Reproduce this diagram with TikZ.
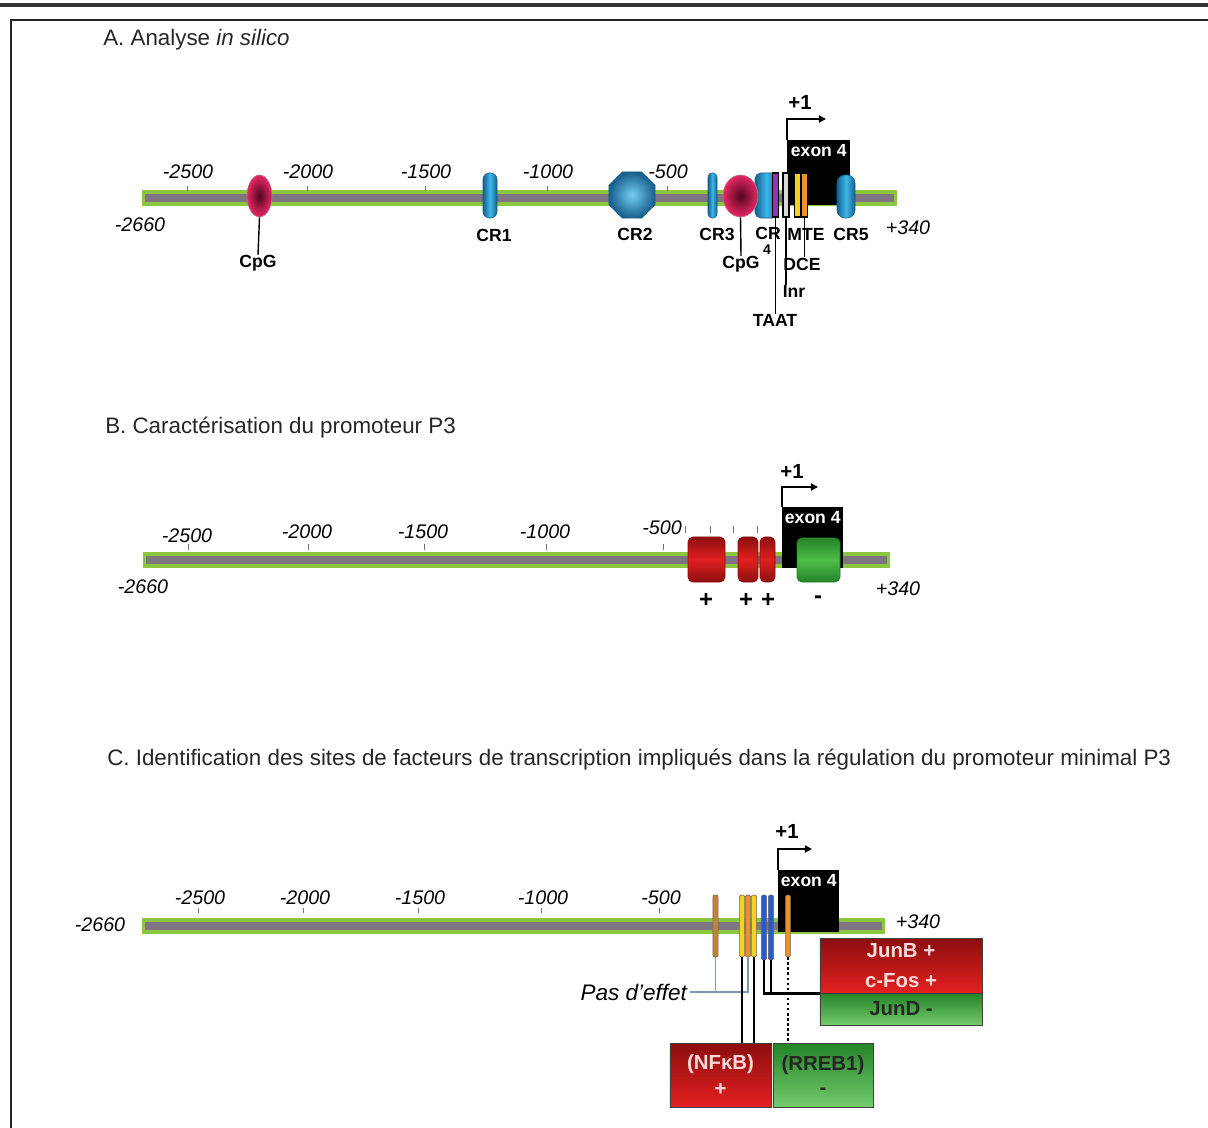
\documentclass[tikz,border=0pt]{standalone}
\usepackage{fontspec}
\setmainfont{Liberation Sans}
\usetikzlibrary{shapes.geometric, arrows.meta}

\definecolor{trackgreen}{RGB}{140,198,63}
\definecolor{trackgrey}{RGB}{126,116,130}
\definecolor{cpgred}{RGB}{232,38,100}
\definecolor{cpgdark}{RGB}{80,8,28}
\definecolor{crblue}{RGB}{60,185,235}
\definecolor{crdark}{RGB}{22,95,140}
\definecolor{boxred}{RGB}{228,32,32}
\definecolor{boxdarkred}{RGB}{140,14,14}
\definecolor{boxgreen}{RGB}{78,190,70}
\definecolor{boxdarkgreen}{RGB}{36,130,40}
\definecolor{taatpurple}{RGB}{150,50,180}
\definecolor{mteyellow}{RGB}{245,210,30}
\definecolor{dceorange}{RGB}{235,145,40}
\definecolor{siteblue}{RGB}{40,90,210}
\definecolor{sitebrown}{RGB}{200,130,50}
\definecolor{noeffect}{RGB}{130,150,165}

\tikzset{
  every node/.style={inner sep=0pt},
  track/.style={line width=12pt, draw=trackgreen},
  trackcore/.style={line width=5.5pt, draw=trackgrey},
  tickmark/.style={draw=black!55, line width=0.6pt},
  ticklbl/.style={font=\fontsize{14}{16}\selectfont\itshape},
  headline/.style={anchor=west, text=black!85, font=\fontsize{15.9}{18}\selectfont},
  sitelbl/.style={font=\fontsize{12.5}{14}\selectfont\bfseries},
  sitelink/.style={line width=1pt},
  signlbl/.style={font=\fontsize{17}{18}\selectfont\bfseries},
  tsslbl/.style={font=\fontsize{14.5}{16}\selectfont\bfseries},
  exonbox/.style={anchor=north west, fill=black},
  exonlbl/.style={anchor=north, text=white, font=\fontsize{12.5}{14}\selectfont\bfseries},
  tss/.style={line width=1.5pt, -{Triangle[length=5pt, width=5pt]}},
  cpg/.style={ellipse, draw=cpgdark!50, inner color=cpgdark, outer color=cpgred},
  crcap/.style={rectangle, rounded corners=#1, draw=crdark, left color=crdark,
    right color=crdark, middle color=crblue, minimum height=1.125cm},
  crcap/.default=0.16cm,
  croct/.style={regular polygon, regular polygon sides=8, minimum size=1.25cm,
    draw=crdark, inner color=crblue!70!white, outer color=crdark},
  elem/.style={draw=black, line width=0.8pt, minimum width=0.15cm, minimum height=1.1cm},
  actbox/.style={rectangle, rounded corners=0.12cm, draw=boxdarkred, top color=boxdarkred,
    bottom color=boxdarkred, middle color=boxred, minimum height=1.125cm},
  repbox/.style={rectangle, rounded corners=0.12cm, draw=boxdarkgreen, top color=boxdarkgreen,
    bottom color=boxdarkgreen, middle color=boxgreen, minimum height=1.1cm},
  sitebar/.style={rectangle, rounded corners=0.05cm, draw=black!60, line width=0.4pt,
    minimum width=0.13cm, minimum height=1.55cm},
  tfbox/.style={rectangle, draw=black!75, line width=0.6pt, align=center,
    font=\fontsize{14.5}{21}\selectfont\bfseries},
  upbox/.style={tfbox, top color=boxdarkred, bottom color=boxred, text=white!85!red},
  downbox/.style={tfbox, top color=boxdarkgreen, bottom color=boxgreen!80!white, text=black!85},
  tflink/.style={line width=1.8pt},
  nolink/.style={draw=noeffect, line width=1pt},
}

\begin{document}
\begin{tikzpicture}[x=0.025cm, y=-0.025cm]
	\useasboundingbox (0,0) rectangle (1208,1128);
	\draw[line width=2.2pt, black!80] (0,5) -- (1208,5);
	\draw[line width=2pt, black!85] (10,20) -- (1208,20);
	\draw[line width=2pt, black!85] (11,19) -- (11,1128);

	% A
	\node[headline] (titA) at (103,40) {A. Analyse \textit{in silico}};
	\draw[track] (142,198) -- (897,198);
	\draw[trackcore] (145,198) -- (894,198);
	\foreach \x/\v in {187/-2500, 307/-2000, 425/-1500, 547/-1000, 667/-500}{
		\draw[tickmark] (\x,186) -- (\x,191);
		\node[ticklbl] (tA\x) at (\x+1,172) {\v};
	}
	\node[ticklbl] (startA) at (140,225) {-2660};
	\node[ticklbl] (endA) at (908,228) {+340};
	\node[exonbox, minimum width=1.575cm, minimum height=1.625cm] (exonA) at (787,140) {};
	\node[exonlbl] (exonAt) at ([yshift=-3pt]exonA.north) {exon 4};
	\draw[tss] (exonA.north west) -- ++(0,-21) -- ++(39,0);
	\node[tsslbl] (tssA) at (800,102) {+1};
	\node[cpg, minimum width=0.625cm, minimum height=1.05cm] (cpgA1) at (259.5,196) {};
	\node[crcap, minimum width=0.35cm] (cr1) at (490,195.5) {};
	\node[croct] (cr2) at (632,195) {};
	\node[crcap=0.1cm, minimum width=0.225cm] (cr3) at (712.5,195.5) {};
	\node[crcap=0.14cm, minimum width=0.575cm] (cr4) at (766.5,195.5) {};
	\node[cpg, minimum width=0.875cm, minimum height=1.05cm] (cpgA2) at (740.5,196) {};
	\node[elem, fill=taatpurple] (taat) at (775.5,195) {};
	\node[elem, fill=black!15] (inr) at (786,195) {};
	\node[elem, fill=mteyellow] (mte) at (797.5,195) {};
	\node[elem, fill=dceorange] (dce) at (804.5,195) {};
	\node[crcap=0.2cm, minimum width=0.45cm, minimum height=1.075cm] (cr5) at (846,196.5) {};
	\node[sitelbl] (cpgA1l) at (258,263) {CpG};
	\draw[sitelink] (cpgA1.south) -- (cpgA1l.north);
	\node[sitelbl] (cr1l) at (494,235) {CR1};
	\node[sitelbl] (cr2l) at (635,234) {CR2};
	\node[sitelbl] (cr3l) at (717,234) {CR3};
	\node[sitelbl] (cr4l) at (768,233) {CR};
	\node[sitelbl, font=\fontsize{10}{12}\selectfont\bfseries] (cr4n) at (767,250) {4};
	\node[sitelbl] (cpgA2l) at (741,264) {CpG};
	\draw[sitelink] (cpgA2.south) -- (cpgA2l.north);
	\node[sitelbl] (mtel) at (806,234) {MTE};
	\node[sitelbl] (cr5l) at (851,234) {CR5};
	\node[sitelbl] (dcel) at (802,264) {DCE};
	\draw[sitelink] (dce.south) -- (dce.south |- dcel.north);
	\node[sitelbl] (inrl) at (794,291) {Inr};
	\draw[sitelink] (inr.south) -- (inr.south |- inrl.north);
	\node[sitelbl] (taatl) at (775,320) {TAAT};
	\draw[sitelink] (taat.south) -- (taat.south |- taatl.north);

	% B
	\node[headline] (titB) at (105,428) {B. Caractérisation du promoteur P3};
	\draw[track] (143,560) -- (890,560);
	\draw[trackcore] (146,560) -- (887,560);
	\foreach \x/\v/\y in {188/-2500/536, 308/-2000/532, 424/-1500/532, 546/-1000/532, 663/-500/528}{
		\draw[tickmark] (\x,544) -- (\x,550);
		\node[ticklbl] (tB\x) at (\x-1,\y) {\v};
	}
	\foreach \x in {685, 710, 733, 757}{
		\draw[tickmark] (\x,526) -- (\x,533);
	}
	\node[ticklbl] (startB) at (143,587) {-2660};
	\node[ticklbl] (endB) at (898,589) {+340};
	\node[exonbox, minimum width=1.525cm, minimum height=1.525cm] (exonB) at (782,507) {};
	\node[exonlbl] (exonBt) at ([yshift=-3pt]exonB.north) {exon 4};
	\draw[tss] (exonB.north west) -- ++(0,-20) -- ++(36,0);
	\node[tsslbl] (tssB) at (792,471) {+1};
	\node[actbox, minimum width=0.925cm] (rB1) at (706.5,559.5) {};
	\node[actbox, minimum width=0.5cm] (rB2) at (748,559.5) {};
	\node[actbox, minimum width=0.375cm] (rB3) at (767.5,559.5) {};
	\node[repbox, minimum width=1.075cm] (gB1) at (818.5,560) {};
	\node[signlbl] (sB1) at (706,600) {+};
	\node[signlbl] (sB2) at (746,600) {+};
	\node[signlbl] (sB3) at (768,600) {+};
	\node[signlbl] (sB4) at (818,600) {-};

	% C
	\node[headline] (titC) at (107,760) {C. Identification des sites de facteurs de transcription impliqués dans la régulation du promoteur minimal P3};
	\draw[track] (142,926) -- (885,926);
	\draw[trackcore] (145,926) -- (882,926);
	\foreach \x/\v in {198/-2500, 303/-2000, 418/-1500, 541/-1000, 659/-500}{
		\draw[tickmark] (\x,908) -- (\x,913);
		\node[ticklbl] (tC\x) at (\x+2,898) {\v};
	}
	\node[ticklbl] (startC) at (100,925) {-2660};
	\node[ticklbl] (endC) at (918,922) {+340};
	\node[exonbox, minimum width=1.525cm, minimum height=1.55cm] (exonC) at (778,870) {};
	\node[exonlbl] (exonCt) at ([yshift=-3pt]exonC.north) {exon 4};
	\draw[tss] (exonC.north west) -- ++(0,-21) -- ++(34,0);
	\node[tsslbl] (tssC) at (787,831) {+1};
	\node[sitebar, fill=sitebrown] (sC1) at (715.5,926) {};
	\node[sitebar, fill=mteyellow] (sC2) at (742,926) {};
	\node[sitebar, fill=dceorange] (sC3) at (748,926) {};
	\node[sitebar, fill=mteyellow] (sC4) at (754,926) {};
	\node[sitebar, fill=siteblue, minimum height=1.625cm] (sC5) at (764,927.5) {};
	\node[sitebar, fill=siteblue, minimum height=1.625cm] (sC6) at (771,927.5) {};
	\node[sitebar, fill=dceorange] (sC7) at (788,926) {};
	\node[upbox, minimum width=4.05cm, minimum height=1.375cm] (junb) at (901,965.5) {JunB +\\c-Fos +};
	\node[downbox, minimum width=4.05cm, minimum height=0.8cm] (jund) at (901,1009) {JunD -};
	\node[upbox, minimum width=2.525cm, minimum height=1.6cm, font=\fontsize{14.5}{18.5}\selectfont\bfseries] (nfkb) at (720.5,1075) {(NFκB)\\+};
	\node[downbox, minimum width=2.5cm, minimum height=1.6cm, font=\fontsize{14.5}{16.5}\selectfont\bfseries] (rreb) at (823,1075) {(RREB1)\\-};
	\node[anchor=east, inner sep=2pt, font=\fontsize{16}{18}\selectfont\itshape] (pde) at (690,992) {Pas d’effet};
	\draw[nolink] (sC1.south) -- (sC1.south |- pde.east);
	\draw[nolink] (pde.east) -- (sC3.south |- pde.east) -- (sC3.south);
	\draw[tflink] (sC2.south) -- (sC2.south |- nfkb.north);
	\draw[tflink] (sC4.south) -- (sC4.south |- nfkb.north);
	\draw[tflink] (sC5.south) |- (junb.south west);
	\draw[tflink] (sC6.south) -- (sC6.south |- junb.south west);
	\draw[tflink, dash pattern=on 1.8pt off 1.8pt] (sC7.south) -- (sC7.south |- rreb.north);
\end{tikzpicture}
\end{document}
